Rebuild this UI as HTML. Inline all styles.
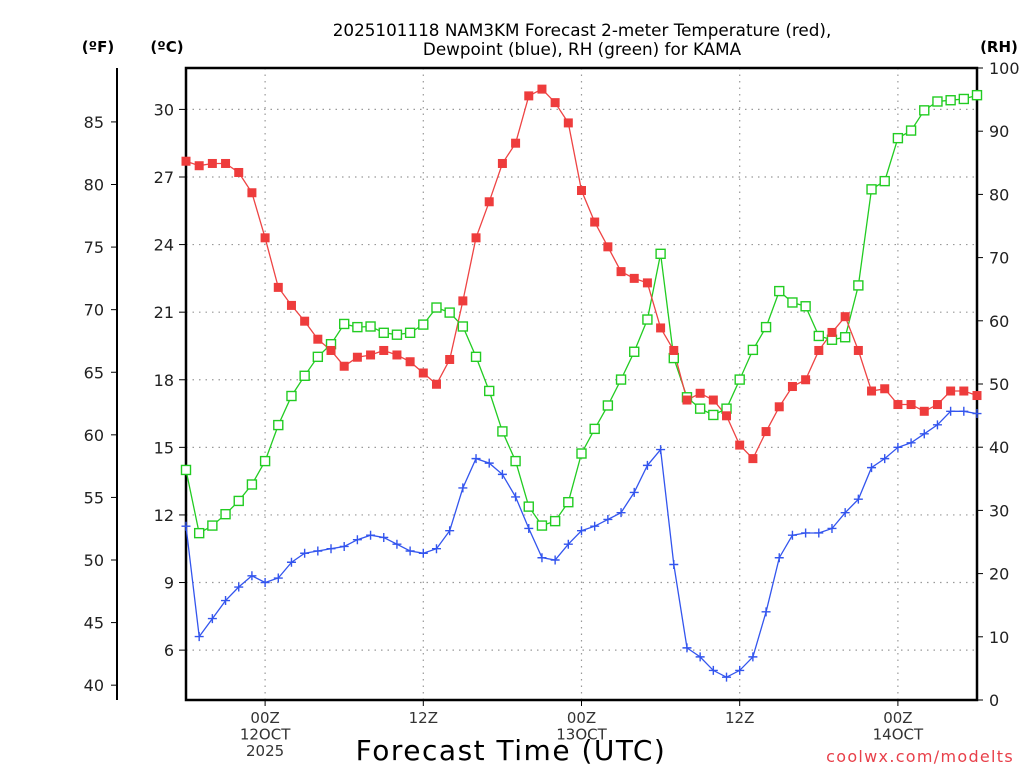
<!DOCTYPE html>
<html><head><meta charset="utf-8"><style>
html,body{margin:0;padding:0;background:#fff;width:1024px;height:768px;overflow:hidden}
svg{display:block}
text{font-family:"DejaVu Sans","Liberation Sans",sans-serif}
</style></head><body>
<svg id="chart" width="1024" height="768" viewBox="0 0 1024 768" xmlns="http://www.w3.org/2000/svg">
<rect width="1024" height="768" fill="#fff"/>
<g font-size="16.8" text-anchor="middle" fill="#000" style="font-family:'Liberation Mono',monospace">
<text x="582" y="36">2025101118 NAM3KM Forecast 2-meter Temperature (red),</text>
<text x="582" y="55">Dewpoint (blue), RH (green) for KAMA</text>
</g>
<text x="98" y="52" font-size="15" font-weight="bold" text-anchor="middle">(ºF)</text>
<text x="167" y="52" font-size="15" font-weight="bold" text-anchor="middle">(ºC)</text>
<text x="999" y="52" font-size="15" font-weight="bold" text-anchor="middle">(RH)</text>
<g id="grid"></g>
<g id="axes"></g>
<g id="series"></g>
<text x="511" y="760" font-size="28" text-anchor="middle" letter-spacing="1.5">Forecast Time (UTC)</text>
<text x="1014" y="762" font-size="16" fill="#e8404a" text-anchor="end" letter-spacing="1.3">coolwx.com/modelts</text>
</svg>
<script>
const temperatureC = [27.7,27.5,27.6,27.6,27.2,26.3,24.3,22.1,21.3,20.6,19.8,19.3,18.6,19.0,19.1,19.3,19.1,18.8,18.3,17.8,18.9,21.5,24.3,25.9,27.6,28.5,30.6,30.9,30.3,29.4,26.4,25.0,23.9,22.8,22.5,22.3,20.3,19.3,17.1,17.4,17.1,16.4,15.1,14.5,15.7,16.8,17.7,18.0,19.3,20.1,20.8,19.3,17.5,17.6,16.9,16.9,16.6,16.9,17.5,17.5,17.3];
const dewpointC = [11.5,6.6,7.4,8.2,8.8,9.3,9.0,9.2,9.9,10.3,10.4,10.5,10.6,10.9,11.1,11.0,10.7,10.4,10.3,10.5,11.3,13.2,14.5,14.3,13.8,12.8,11.4,10.1,10.0,10.7,11.3,11.5,11.8,12.1,13.0,14.2,14.9,9.8,6.1,5.7,5.1,4.8,5.1,5.7,7.7,10.1,11.1,11.2,11.2,11.4,12.1,12.7,14.1,14.5,15.0,15.2,15.6,16.0,16.6,16.6,16.5];
const relHumidity = [36.4,26.4,27.6,29.4,31.5,34.1,37.8,43.5,48.1,51.3,54.3,56.3,59.5,59.0,59.1,58.1,57.8,58.1,59.4,62.1,61.3,59.1,54.3,48.9,42.5,37.8,30.6,27.6,28.3,31.3,39.0,42.9,46.6,50.7,55.1,60.2,70.6,54.1,47.9,46.1,45.1,46.1,50.7,55.4,59.0,64.7,62.9,62.3,57.6,57.0,57.4,65.6,80.8,82.1,88.9,90.1,93.3,94.7,94.9,95.1,95.7];
const celsiusTicks = [6,9,12,15,18,21,24,27,30];
const fahrenheitTicks = [40,45,50,55,60,65,70,75,80,85];
const rhTicks = [0,10,20,30,40,50,60,70,80,90,100];
const timeTickHours = [6,18,30,42,54];
const timeTickLabels = [["00Z","12OCT","2025"],["12Z"],["00Z","13OCT"],["12Z"],["00Z","14OCT"]];

const NS="http://www.w3.org/2000/svg";
const L=186,R=977,T=68,B=700;
const xH=h=>L+h*(R-L)/60;
const yC=c=>109.4+(30-c)*22.53;
const yF=f=>yC((f-32)*5/9);
const yR=r=>B-r*(B-T)/100;
function el(tag,attrs,parent){const e=document.createElementNS(NS,tag);for(const k in attrs)e.setAttribute(k,attrs[k]);parent.appendChild(e);return e;}
const grid=document.getElementById('grid'),axes=document.getElementById('axes'),series=document.getElementById('series');

celsiusTicks.forEach(c=>{
  const g=el('line',{x1:L,x2:R,y1:yC(c),y2:yC(c),stroke:'#999','stroke-width':1.2,'stroke-dasharray':'1.5,5'},grid);
  
  
  const t=el('line',{x1:L-7,x2:L,y1:yC(c),y2:yC(c),stroke:'#000','stroke-width':1},axes);
  
  
  const lb=el('text',{x:L-12,y:yC(c)+6,'font-size':16,'text-anchor':'end',fill:'#222'},axes);
  lb.textContent=c;
  
  
});
timeTickHours.forEach((h,i)=>{
  const g=el('line',{x1:xH(h),x2:xH(h),y1:T,y2:B,stroke:'#999','stroke-width':1.2,'stroke-dasharray':'1.5,5'},grid);
  
  
  const t=el('line',{x1:xH(h),x2:xH(h),y1:B,y2:B+6,stroke:'#000','stroke-width':1},axes);
  
  
  timeTickLabels[i].forEach((s,j)=>{
    const lb=el('text',{x:xH(h),y:B+23+j*16.5,'font-size':15,'text-anchor':'middle',fill:'#333'},axes);
    lb.textContent=s;
    
    
  });
});
const frame=el('rect',{x:L,y:T,width:R-L,height:B-T,fill:'none',stroke:'#000','stroke-width':2.5},axes);


const fax=el('line',{x1:117,x2:117,y1:T,y2:700,stroke:'#000','stroke-width':2},axes);


fahrenheitTicks.forEach(f=>{
  const t=el('line',{x1:111,x2:117,y1:yF(f),y2:yF(f),stroke:'#000','stroke-width':1},axes);
  
  
  const lb=el('text',{x:104,y:yF(f)+6,'font-size':16,'text-anchor':'end',fill:'#222'},axes);
  lb.textContent=f;
  
  
});
rhTicks.forEach(r=>{
  const t=el('line',{x1:R,x2:R+6,y1:yR(r),y2:yR(r),stroke:'#000','stroke-width':1},axes);
  
  
  const lb=el('text',{x:R+12,y:yR(r)+6,'font-size':16,'text-anchor':'start',fill:'#222'},axes);
  lb.textContent=r;
  
  
});

function line(vals,yf,color,name){
  const pts=vals.map((v,i)=>xH(i).toFixed(1)+','+yf(v).toFixed(1)).join(' ');
  const p=el('polyline',{points:pts,fill:'none',stroke:color,'stroke-width':1.3},series);
  
  
}
line(relHumidity,yR,'#22cc22','rh-line');
line(temperatureC,yC,'#ee4444','temperature-line');
line(dewpointC,yC,'#3355ee','dewpoint-line');
relHumidity.forEach((v,i)=>{
  const m=el('rect',{x:xH(i)-4.5,y:yR(v)-4.5,width:9,height:9,fill:'#fff',stroke:'#22cc22','stroke-width':1.4},series);
  
  
});
temperatureC.forEach((v,i)=>{
  const m=el('rect',{x:xH(i)-4.5,y:yC(v)-4.5,width:9,height:9,fill:'#ee3c3c'},series);
  
  
});
dewpointC.forEach((v,i)=>{
  const x=xH(i),y=yC(v);
  const m=el('path',{d:`M${x-4.5},${y}H${x+4.5}M${x},${y-4.5}V${y+4.5}`,stroke:'#3355ee','stroke-width':1.4,fill:'none'},series);
  
  
});
</script>
</body></html>
